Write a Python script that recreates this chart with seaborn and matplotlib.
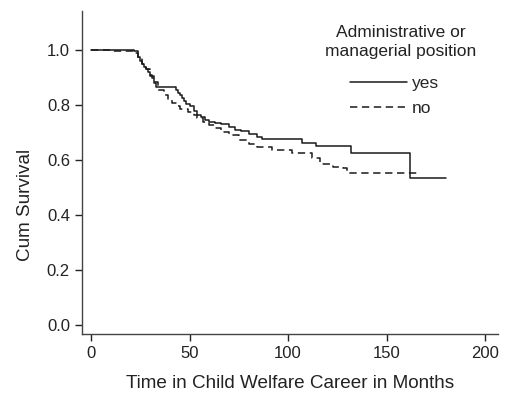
import matplotlib
matplotlib.use("Agg")
import matplotlib.pyplot as plt
import seaborn as sns
import pandas as pd

# Step survival curves
yes_time = [0, 22, 24, 25, 26, 27, 28, 29, 30, 31, 32, 33, 43, 44, 45, 46, 47, 48,
            50, 52, 54, 56, 58, 60, 63, 66, 70, 73, 76, 80, 84, 87, 107, 114, 132, 162, 180]
yes_surv = [1.0, 0.995, 0.975, 0.96, 0.95, 0.94, 0.93, 0.92, 0.91, 0.90, 0.88, 0.865,
            0.855, 0.845, 0.835, 0.825, 0.815, 0.805, 0.795, 0.78, 0.765, 0.755, 0.745,
            0.74, 0.735, 0.73, 0.72, 0.71, 0.705, 0.695, 0.685, 0.675, 0.663, 0.651,
            0.627, 0.536, 0.536]

no_time = [0, 10, 22, 24, 26, 28, 30, 32, 34, 37, 39, 41, 43, 45, 49, 52, 54, 57, 60,
           63, 66, 70, 75, 80, 84, 92, 102, 112, 116, 123, 128, 130, 167]
no_surv = [1.0, 0.997, 0.99, 0.97, 0.95, 0.93, 0.905, 0.885, 0.855, 0.836, 0.82, 0.807,
           0.795, 0.785, 0.776, 0.765, 0.753, 0.74, 0.727, 0.715, 0.703, 0.69, 0.673,
           0.66, 0.646, 0.638, 0.627, 0.606, 0.587, 0.576, 0.57, 0.554, 0.554]

groups = ["yes", "no"]
legend_title = "Administrative or\nmanagerial position"
x_ticks = [0, 50, 100, 150, 200]
y_ticks = [0.0, 0.2, 0.4, 0.6, 0.8, 1.0]

df = pd.concat([
    pd.DataFrame({"time": yes_time, "surv": yes_surv, "group": "yes"}),
    pd.DataFrame({"time": no_time, "surv": no_surv, "group": "no"}),
], ignore_index=True)

sns.set_theme(style="ticks")
plt.rcParams["font.family"] = ["Liberation Sans", "DejaVu Sans"]

W, H = 511, 397
fig = plt.figure(figsize=(W / 100, H / 100), dpi=100)
ax = fig.add_axes([0.160, 0.159, 0.815, 0.813])

sns.lineplot(data=df, x="time", y="surv", hue="group", style="group",
             hue_order=groups, style_order=groups,
             palette={"yes": "#1a1a1a", "no": "#1a1a1a"},
             dashes={"yes": "", "no": (4.8, 3)},
             drawstyle="steps-post", estimator=None, sort=True,
             linewidth=1.1, ax=ax)

ax.set_xlim(-4.7, 206.6)
ax.set_ylim(-0.033, 1.142)
ax.set_xticks(x_ticks)
ax.set_yticks(y_ticks)
ax.set_yticklabels([f"{v:.1f}" for v in y_ticks])
ax.set_xlabel("Time in Child Welfare Career in Months", fontsize=13.6, color="#222222", labelpad=10)
ax.set_ylabel("Cum Survival", fontsize=13.6, color="#222222", labelpad=6)
ax.yaxis.set_label_coords(-0.115, 0.40)
ax.tick_params(axis="both", labelsize=12, colors="#222222", length=5, width=1, direction="out")
for s in ["top", "right"]:
    ax.spines[s].set_visible(False)
for s in ["left", "bottom"]:
    ax.spines[s].set_color("#444444")
    ax.spines[s].set_linewidth(1)

handles, labels = ax.get_legend_handles_labels()
leg = ax.legend(handles, labels, frameon=False,
                loc="upper left", bbox_to_anchor=(350 / W, 1 - 76 / H),
                bbox_transform=fig.transFigure,
                fontsize=12.5, handlelength=3.3, handletextpad=0.25,
                labelspacing=0.55, borderpad=0, borderaxespad=0)
fig.text(401 / W, 1 - 42 / H, legend_title, ha="center", va="center",
         fontsize=12.5, linespacing=1.3, color="#222222")

fig.savefig("out.png", dpi=100)
